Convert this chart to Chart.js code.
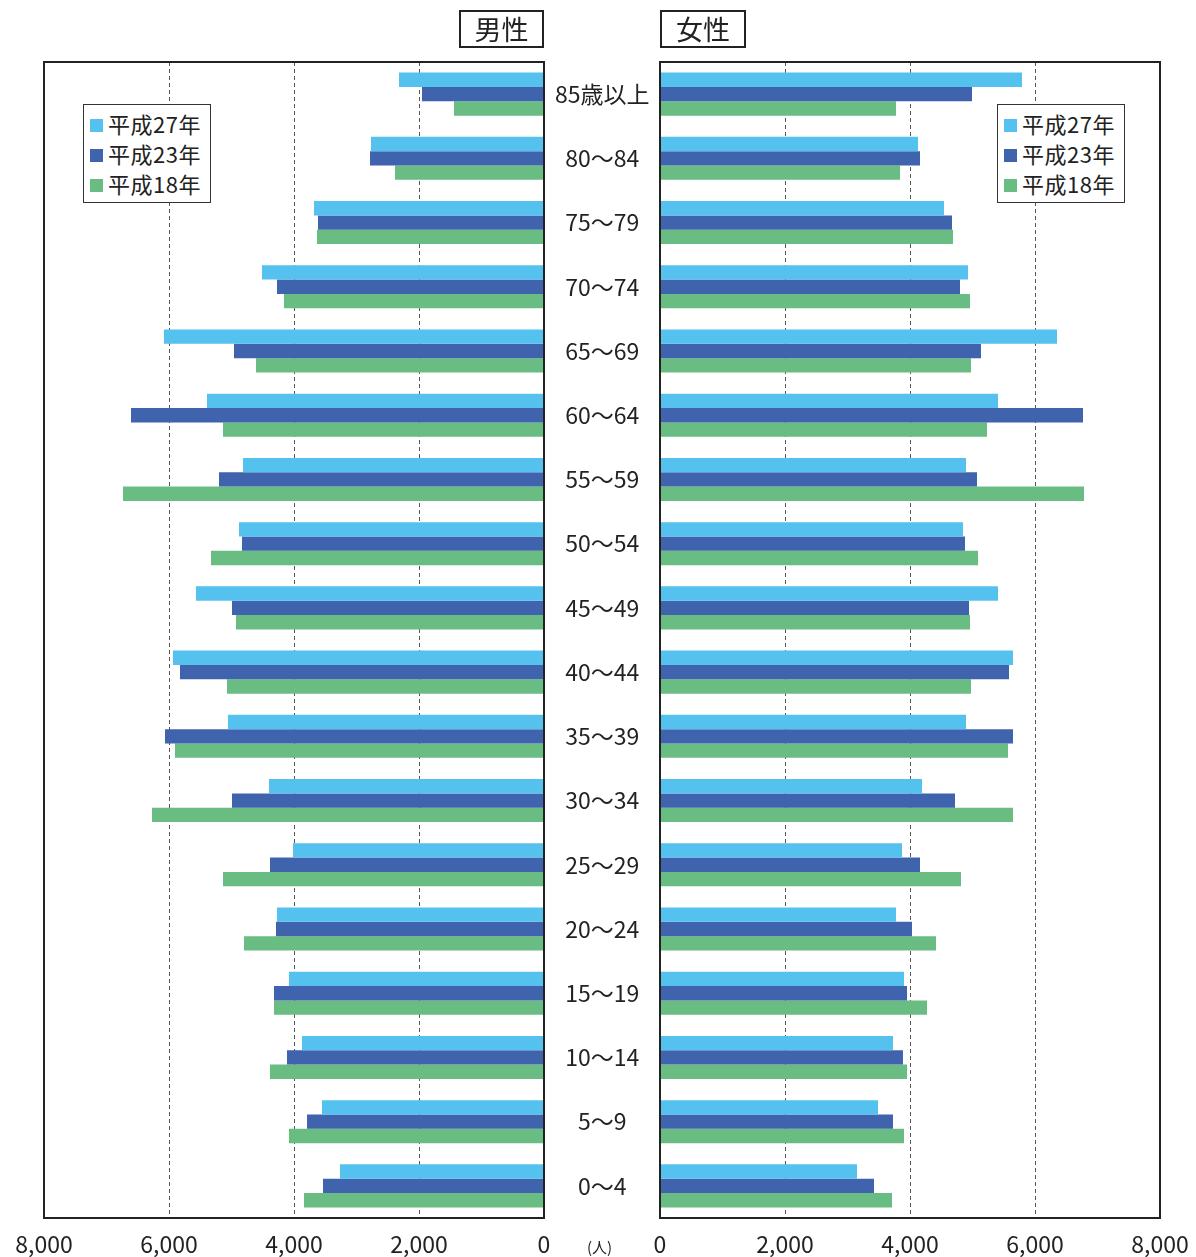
<!DOCTYPE html>
<html>
<head>
<meta charset="utf-8">
<script src="https://cdn.jsdelivr.net/npm/chart.js@4"></script>
<style>
  body { margin: 0; background: #fff; font-family: "Noto Sans CJK JP", sans-serif; color: #222; }
  #wrap { position: relative; width: 1196px; height: 1257px; overflow: hidden; }
  canvas { position: absolute; top: 0; }
  .title { position: absolute; top: 10px; height: 34px; border: 2px solid #222; font-size: 27px; line-height: 34px; text-align: center; background: #fff; }
  .legend { position: absolute; top: 104px; width: 114px; border: 1.5px solid #333; background: #fff; padding: 3px 6px 4px 6px; font-size: 22px; line-height: 30px; letter-spacing: 0.5px; }
  .legend span.sw { display: inline-block; width: 13px; height: 13px; margin-right: 5px; vertical-align: 1px; }
  .unit { position: absolute; left: 587px; top: 1236px; font-size: 15px; }
</style>
</head>
<body>
<div id="wrap">
  <canvas id="maleChart" width="660" height="1257" style="left:0"></canvas>
  <canvas id="femaleChart" width="620" height="1257" style="left:600px"></canvas>
  <div class="title" style="left:459px;width:81px">男性</div>
  <div class="title" style="left:660px;width:82px">女性</div>
  <div class="legend" id="legendL" style="left:83px"></div>
  <div class="legend" id="legendR" style="left:997px"></div>
  <div class="unit">(人)</div>
</div>
<script>
const ages = ["85歳以上", "80~84", "75~79", "70~74", "65~69", "60~64", "55~59", "50~54",
  "45~49", "40~44", "35~39", "30~34", "25~29", "20~24", "15~19", "10~14", "5~9", "0~4"];
const seriesNames = ["平成27年", "平成23年", "平成18年"];
const seriesColors = ["#55c1ef", "#3f63ac", "#69bd83"];
const xTicks = [0, 2000, 4000, 6000, 8000];

const maleH27 = [2320, 2768, 3680, 4512, 6080, 5392, 4816, 4880, 5568, 5936, 5056, 4400, 4016, 4272, 4080, 3872, 3552, 3264];
const maleH23 = [1952, 2784, 3616, 4272, 4960, 6608, 5200, 4832, 4992, 5824, 6064, 4992, 4384, 4288, 4320, 4112, 3792, 3536];
const maleH18 = [1440, 2384, 3632, 4160, 4608, 5136, 6736, 5328, 4928, 5072, 5904, 6272, 5136, 4800, 4320, 4384, 4080, 3840];

const femaleH27 = [5792, 4128, 4544, 4928, 6352, 5408, 4896, 4848, 5408, 5648, 4896, 4192, 3872, 3776, 3904, 3728, 3488, 3152];
const femaleH23 = [4992, 4160, 4672, 4800, 5136, 6768, 5072, 4880, 4944, 5584, 5648, 4720, 4160, 4032, 3952, 3888, 3728, 3424];
const femaleH18 = [3776, 3840, 4688, 4960, 4976, 5232, 6784, 5088, 4960, 4976, 5568, 5648, 4816, 4416, 4272, 3952, 3904, 3712];

const font = "'Noto Sans CJK JP', sans-serif";

function makeDatasets(arrs) {
  return arrs.map((d, i) => ({
    label: seriesNames[i],
    data: d,
    backgroundColor: seriesColors[i],
    borderWidth: 0,
    categoryPercentage: 0.67,
    barPercentage: 1.0
  }));
}

const boxPlugin = {
  id: "box",
  afterDraw(chart) {
    const a = chart.chartArea, c = chart.ctx;
    c.save();
    c.strokeStyle = "#222";
    c.lineWidth = 2;
    c.strokeRect(a.left, a.top, a.right - a.left, a.bottom - a.top);
    c.restore();
  }
};

function xScale(reverse) {
  return {
    type: "linear",
    min: 0, max: 8000, reverse: reverse,
    afterBuildTicks(s) { s.ticks = xTicks.map(v => ({ value: v })); },
    afterFit(s) { s.height = 39; },
    grid: { color: "#555", lineWidth: 1, drawTicks: false },
    border: { display: false, dash: [4, 3] },
    ticks: {
      padding: 12,
      color: "#222",
      font: { family: font, size: 23 },
      callback: v => v.toLocaleString("en-US")
    }
  };
}

function opts(reverse, padding, yAxis) {
  return {
    responsive: false,
    animation: false,
    indexAxis: "y",
    layout: { padding: padding },
    plugins: { legend: { display: false }, tooltip: { enabled: false } },
    scales: { x: xScale(reverse), y: yAxis }
  };
}

const male = new Chart(document.getElementById("maleChart"), {
  type: "bar",
  data: { labels: ages, datasets: makeDatasets([maleH27, maleH23, maleH18]) },
  options: opts(true, { left: 44, top: 62, right: 0, bottom: 0 }, {
    position: "right",
    afterFit(s) { s.width = 116; },
    grid: { display: false },
    border: { display: false },
    ticks: {
      crossAlign: "center",
      padding: 3,
      color: "#222",
      font: { family: font, size: 23 },
      callback: (v, i) => ages[i].replace("~", "〜")
    }
  }),
  plugins: [boxPlugin]
});

const female = new Chart(document.getElementById("femaleChart"), {
  type: "bar",
  data: { labels: ages, datasets: makeDatasets([femaleH27, femaleH23, femaleH18]) },
  options: opts(false, { left: 60, top: 62, right: 60, bottom: 0 }, { display: false }),
  plugins: [boxPlugin]
});

// dashed gridlines
[male, female].forEach(ch => {
  ch.options.scales.x.grid.borderDash = [4, 3];
  ch.update();
});

function buildLegend(id, chart) {
  const el = document.getElementById(id);
  el.innerHTML = chart.data.datasets.map(ds =>
    '<div><span class="sw" style="background:' + ds.backgroundColor + '"></span>' + ds.label + '</div>'
  ).join("");
}
buildLegend("legendL", male);
buildLegend("legendR", female);
</script>
</body>
</html>
